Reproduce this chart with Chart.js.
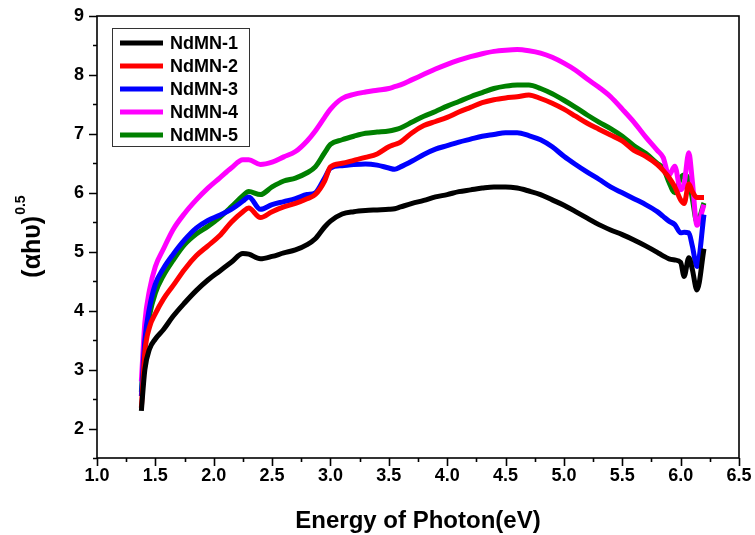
<!DOCTYPE html>
<html>
<head>
<meta charset="utf-8">
<script src="https://cdn.jsdelivr.net/npm/chart.js@4.4.1/dist/chart.umd.min.js"></script>
<style>
  html, body { margin: 0; padding: 0; background: #fff; overflow: hidden; }
  canvas { display: block; }
</style>
</head>
<body>
<canvas id="absorptionChart" width="755" height="535"></canvas>
<script>
// photon energy (eV), shared by all samples
const energy = [1.38, 1.41, 1.45, 1.5, 1.57, 1.65, 1.75, 1.85, 1.95, 2.05, 2.15, 2.25, 2.3, 2.4, 2.5, 2.6, 2.7, 2.8, 2.87, 2.95,
  3.0, 3.1, 3.2, 3.3, 3.4, 3.5, 3.55, 3.6, 3.7, 3.8, 3.9, 4.0, 4.1, 4.2, 4.3, 4.4, 4.5, 4.6, 4.7, 4.8,
  4.9, 5.0, 5.1, 5.2, 5.3, 5.4, 5.5, 5.6, 5.7, 5.8, 5.85, 5.9, 5.95, 6.0, 6.03, 6.07, 6.1, 6.14, 6.2];

// (alpha h nu)^0.5 for each sample
const ndmn1 = [2.3, 3.0, 3.35, 3.52, 3.68, 3.9, 4.13, 4.34, 4.52, 4.67, 4.82, 4.97, 4.96, 4.88, 4.92, 4.98, 5.03, 5.12, 5.22, 5.42,
  5.52, 5.64, 5.68, 5.7, 5.71, 5.72, 5.73, 5.76, 5.82, 5.87, 5.93, 5.97, 6.02, 6.05, 6.08, 6.1, 6.1, 6.08, 6.03, 5.97,
  5.88, 5.79, 5.68, 5.57, 5.46, 5.37, 5.29, 5.2, 5.1, 4.99, 4.93, 4.88, 4.86, 4.82, 4.58, 4.9, 4.7, 4.35, 5.05];
const ndmn2 = [2.35, 3.3, 3.72, 3.95, 4.2, 4.42, 4.7, 4.93, 5.1, 5.27, 5.5, 5.68, 5.74, 5.58, 5.68, 5.76, 5.82, 5.9, 5.97, 6.2,
  6.44, 6.5, 6.55, 6.6, 6.66, 6.78, 6.82, 6.86, 7.02, 7.14, 7.21, 7.28, 7.37, 7.45, 7.53, 7.58, 7.61, 7.63, 7.66, 7.6,
  7.52, 7.42, 7.3, 7.18, 7.08, 6.98, 6.88, 6.72, 6.62, 6.48, 6.38, 6.26, 6.1, 5.88, 5.82, 6.15, 6.02, 5.92, 5.92];
const ndmn3 = [2.55, 3.5, 4.05, 4.45, 4.72, 4.95, 5.2, 5.4, 5.53, 5.62, 5.72, 5.86, 5.93, 5.72, 5.8, 5.85, 5.9, 5.97, 6.0, 6.25,
  6.42, 6.46, 6.48, 6.49, 6.47, 6.42, 6.4, 6.44, 6.54, 6.65, 6.74, 6.8, 6.86, 6.91, 6.96, 6.99, 7.02, 7.02, 6.97, 6.9,
  6.78, 6.62, 6.48, 6.35, 6.23, 6.1, 6.0, 5.9, 5.8, 5.68, 5.6, 5.52, 5.46, 5.32, 5.33, 5.32, 5.1, 4.75, 5.63];
const ndmn4 = [2.8, 3.8, 4.35, 4.75, 5.05, 5.37, 5.65, 5.88, 6.08, 6.25, 6.42, 6.56, 6.56, 6.48, 6.52, 6.61, 6.7, 6.88, 7.05, 7.28,
  7.42, 7.6, 7.67, 7.71, 7.74, 7.77, 7.8, 7.83, 7.92, 8.01, 8.1, 8.18, 8.25, 8.31, 8.36, 8.4, 8.42, 8.43, 8.41, 8.37,
  8.3, 8.2, 8.08, 7.93, 7.79, 7.63, 7.42, 7.2, 6.95, 6.72, 6.6, 6.3, 6.45, 6.05, 6.15, 6.68, 6.2, 5.45, 5.8];
const ndmn5 = [2.62, 3.4, 3.92, 4.3, 4.6, 4.85, 5.12, 5.3, 5.43, 5.58, 5.76, 5.95, 6.02, 5.97, 6.1, 6.2, 6.25, 6.34, 6.44, 6.68,
  6.82, 6.9, 6.96, 7.01, 7.03, 7.05, 7.07, 7.1, 7.2, 7.3, 7.38, 7.47, 7.55, 7.63, 7.7, 7.77, 7.81, 7.83, 7.83, 7.77,
  7.68, 7.57, 7.45, 7.32, 7.2, 7.09, 6.96, 6.8, 6.67, 6.5, 6.42, 6.18, 6.0, 6.25, 6.3, 6.22, 5.9, 5.5, 5.83];

const sampleNames = ['NdMN-1', 'NdMN-2', 'NdMN-3', 'NdMN-4', 'NdMN-5'];
const sampleColors = ['#000000', '#ff0000', '#0000ff', '#ff00ff', '#008000'];
const sampleValues = [ndmn1, ndmn2, ndmn3, ndmn4, ndmn5];

const xTicks = [1.0, 1.5, 2.0, 2.5, 3.0, 3.5, 4.0, 4.5, 5.0, 5.5, 6.0, 6.5];
const yTicks = [2, 3, 4, 5, 6, 7, 8, 9];

const FONT = '"Liberation Sans", Arial, sans-serif';

// frame, tick marks, axis titles and the legend box
const decorations = {
  id: 'decorations',
  afterDraw(chart) {
    const { ctx, chartArea: a, scales: { x, y } } = chart;
    ctx.save();
    ctx.strokeStyle = '#000';
    ctx.lineWidth = 1.6;
    ctx.strokeRect(a.left, a.top, a.right - a.left, a.bottom - a.top);

    ctx.beginPath();
    for (let v = 1.0; v <= 6.5001; v += 0.25) {
      const px = Math.round(x.getPixelForValue(v)) + 0.5;
      const major = Math.abs(v * 2 - Math.round(v * 2)) < 1e-6;
      ctx.moveTo(px, a.bottom);
      ctx.lineTo(px, a.bottom + (major ? 8 : 4));
    }
    for (let v = 1.5; v <= 9.0001; v += 0.5) {
      const py = Math.round(y.getPixelForValue(v)) + 0.5;
      const major = Math.abs(v - Math.round(v)) < 1e-6;
      ctx.moveTo(a.left, py);
      ctx.lineTo(a.left - (major ? 8 : 4), py);
    }
    ctx.stroke();

    // x title
    ctx.fillStyle = '#000';
    ctx.font = 'bold 24px ' + FONT;
    ctx.textAlign = 'center';
    ctx.textBaseline = 'middle';
    ctx.fillText('Energy of Photon(eV)', (a.left + a.right) / 2, 521);

    // y title with superscript
    ctx.save();
    ctx.translate(31, (a.top + a.bottom) / 2);
    ctx.rotate(-Math.PI / 2);
    ctx.font = 'bold 25px ' + FONT;
    const base = '(\u03b1h\u03c5)';
    const sup = '0.5';
    const wBase = ctx.measureText(base).width;
    ctx.font = 'bold 14px ' + FONT;
    const wSup = ctx.measureText(sup).width;
    const start = -(wBase + wSup) / 2;
    ctx.textAlign = 'left';
    ctx.textBaseline = 'alphabetic';
    ctx.font = 'bold 25px ' + FONT;
    ctx.fillText(base, start, 9);
    ctx.font = 'bold 14px ' + FONT;
    ctx.fillText(sup, start + wBase + 1, -6);
    ctx.restore();

    // legend
    const lx = 112, ly = 28, lw = 137, lh = 118;
    ctx.lineWidth = 1;
    ctx.strokeStyle = '#333';
    ctx.strokeRect(lx + 0.5, ly + 0.5, lw, lh);
    ctx.font = 'bold 18px ' + FONT;
    ctx.textAlign = 'left';
    ctx.textBaseline = 'middle';
    chart.data.datasets.forEach((ds, i) => {
      const ry = 43 + i * 23;
      ctx.strokeStyle = ds.borderColor;
      ctx.lineWidth = 5;
      ctx.beginPath();
      ctx.moveTo(120, ry);
      ctx.lineTo(163, ry);
      ctx.stroke();
      ctx.fillStyle = '#000';
      ctx.fillText(ds.label, 170, ry + 1);
    });
    ctx.restore();
  }
};

const ctx = document.getElementById('absorptionChart');
new Chart(ctx, {
  type: 'scatter',
  data: {
    datasets: sampleNames.map((name, i) => ({
      label: name,
      data: energy.map((e, k) => ({ x: e, y: sampleValues[i][k] })),
      showLine: true,
      borderColor: sampleColors[i],
      backgroundColor: sampleColors[i],
      borderWidth: 5,
      pointRadius: 0,
      cubicInterpolationMode: 'monotone',
      borderJoinStyle: 'round'
    }))
  },
  options: {
    responsive: false,
    animation: false,
    layout: { autoPadding: false, padding: { top: 16, right: 16, left: 0, bottom: 0 } },
    plugins: {
      legend: { display: false },
      tooltip: { enabled: false }
    },
    scales: {
      x: {
        type: 'linear',
        min: 1.0,
        max: 6.5,
        afterFit: scale => {
          scale.height = 77;
          scale.paddingLeft = 0;
          scale.paddingRight = 0;
        },
        afterBuildTicks: scale => { scale.ticks = xTicks.map(v => ({ value: v })); },
        grid: { drawOnChartArea: false, drawTicks: false },
        border: { display: false },
        ticks: {
          padding: 7,
          color: '#000',
          font: { family: FONT, size: 18, weight: 'bold' },
          callback: value => value.toFixed(1)
        }
      },
      y: {
        type: 'linear',
        min: 1.5,
        max: 9,
        afterFit: scale => {
          scale.width = 97;
          scale.paddingTop = 0;
          scale.paddingBottom = 0;
        },
        afterBuildTicks: scale => { scale.ticks = yTicks.map(v => ({ value: v })); },
        grid: { drawOnChartArea: false, drawTicks: false },
        border: { display: false },
        ticks: {
          padding: 13,
          color: '#000',
          font: { family: FONT, size: 18, weight: 'bold' },
          callback: value => String(value)
        }
      }
    }
  },
  plugins: [decorations]
});
</script>
</body>
</html>
